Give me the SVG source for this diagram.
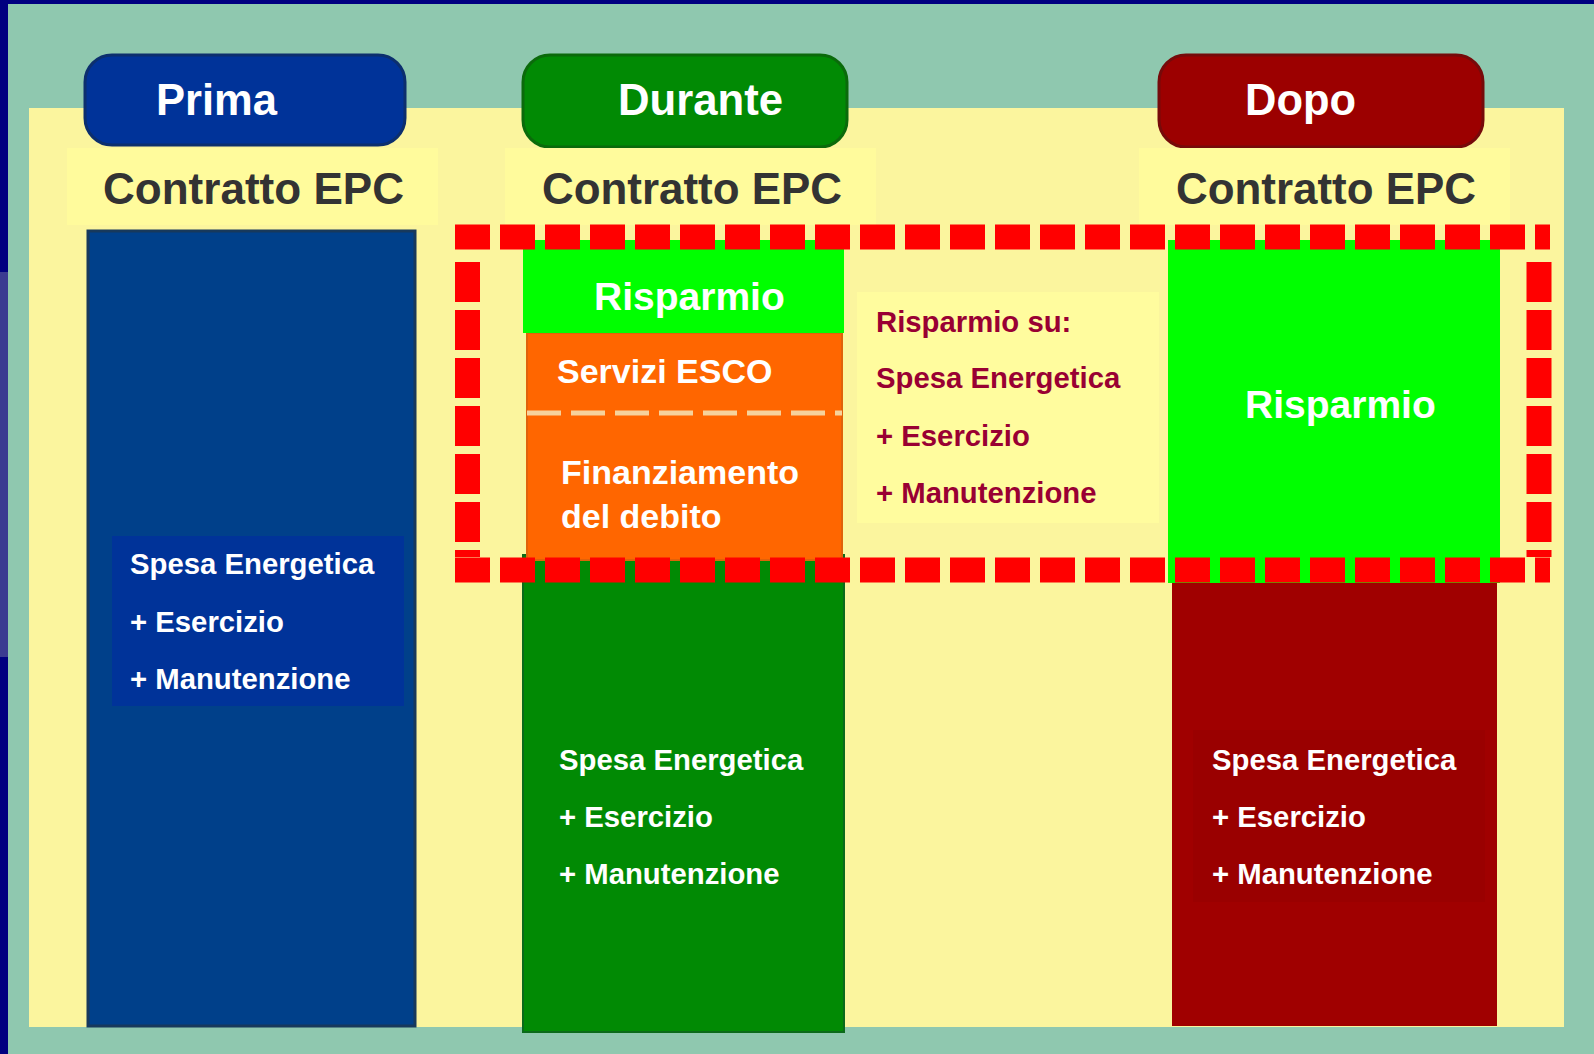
<svg xmlns="http://www.w3.org/2000/svg" width="1594" height="1054" viewBox="0 0 1594 1054">
  <style>
    text { font-family: "Liberation Sans", Arial, sans-serif; font-weight: bold; }
    .hdr { font-size: 45px; fill: #ffffff; }
    .lbl { font-size: 45px; fill: #333333; }
    .item { font-size: 29.3px; fill: #ffffff; }
    .note { font-size: 29.3px; fill: #990033; }
    .big { font-size: 39px; fill: #ffffff; }
    .mid { font-size: 34px; fill: #ffffff; }
    .labelbox { fill: #FFFB9C; }
    .dash { fill: none; stroke: #FF0000; stroke-width: 25; }
  </style>

  <!-- slide background -->
  <rect x="0" y="0" width="1594" height="1054" fill="#000080"/>
  <rect x="0" y="272" width="8" height="385" fill="#3B3B91"/>
  <rect x="8" y="4" width="1586" height="1050" fill="#8FC8AF"/>
  <rect x="29" y="108" width="1535" height="919" fill="#FBF59E"/>

  <!-- column headers -->
  <g id="hdr-prima">
    <rect x="85" y="55" width="320" height="90" rx="27" fill="#003399" stroke="#0C2F6E" stroke-width="3"/>
    <text class="hdr" x="156" y="115" textLength="121" lengthAdjust="spacingAndGlyphs">Prima</text>
  </g>
  <g id="hdr-durante">
    <rect x="523" y="55" width="324" height="92" rx="27" fill="#018A04" stroke="#0B6A0B" stroke-width="3"/>
    <text class="hdr" x="618" y="115" textLength="165" lengthAdjust="spacingAndGlyphs">Durante</text>
  </g>
  <g id="hdr-dopo">
    <rect x="1159" y="55" width="324" height="92" rx="27" fill="#9C0000" stroke="#760A0A" stroke-width="3"/>
    <text class="hdr" x="1245" y="115" textLength="111" lengthAdjust="spacingAndGlyphs">Dopo</text>
  </g>

  <!-- contract labels -->
  <g id="lbl-prima">
    <rect class="labelbox" x="67" y="148" width="371" height="77"/>
    <text class="lbl" x="103" y="204" textLength="301" lengthAdjust="spacingAndGlyphs">Contratto EPC</text>
  </g>
  <g id="lbl-durante">
    <rect class="labelbox" x="505" y="148" width="371" height="77"/>
    <text class="lbl" x="542" y="204" textLength="300" lengthAdjust="spacingAndGlyphs">Contratto EPC</text>
  </g>
  <g id="lbl-dopo">
    <rect class="labelbox" x="1139" y="148" width="371" height="77"/>
    <text class="lbl" x="1176" y="204" textLength="300" lengthAdjust="spacingAndGlyphs">Contratto EPC</text>
  </g>

  <!-- before: full cost column -->
  <g id="col-prima">
    <rect x="88" y="231" width="327" height="795" fill="#00408A" stroke="#17395C" stroke-width="3"/>
    <rect x="112" y="536" width="292" height="170" fill="#003399"/>
    <text class="item" x="130" y="574">Spesa Energetica</text>
    <text class="item" x="130" y="632">+ Esercizio</text>
    <text class="item" x="130" y="689">+ Manutenzione</text>
  </g>

  <!-- during: savings split into ESCO services and debt financing -->
  <g id="col-durante">
    <rect x="523" y="555" width="321" height="477" fill="#018A04" stroke="#0B6A1A" stroke-width="2"/>
    <rect x="527" y="333" width="315" height="227" fill="#FF6600" stroke="#E0620A" stroke-width="2"/>
    <line x1="527" y1="413" x2="842" y2="413" stroke="#F6D29C" stroke-width="5" stroke-dasharray="34 10"/>
    <rect x="523" y="240" width="321" height="93" fill="#00FF00"/>
    <text class="item" x="559" y="770">Spesa Energetica</text>
    <text class="item" x="559" y="827">+ Esercizio</text>
    <text class="item" x="559" y="884">+ Manutenzione</text>
  </g>

  <!-- after: reduced cost column with full savings -->
  <g id="col-dopo">
    <rect x="1172" y="570" width="325" height="456" fill="#A00000"/>
    <rect x="1193" y="730" width="292" height="172" fill="#9A0000"/>
    <rect x="1168" y="240" width="332" height="343" fill="#00FF00"/>
    <text class="item" x="1212" y="770">Spesa Energetica</text>
    <text class="item" x="1212" y="827">+ Esercizio</text>
    <text class="item" x="1212" y="884">+ Manutenzione</text>
  </g>

  <!-- savings description -->
  <g id="savings-note">
    <rect x="857" y="292" width="302" height="231" fill="#FFFC9E"/>
    <text class="note" x="876" y="332">Risparmio su:</text>
    <text class="note" x="876" y="388">Spesa Energetica</text>
    <text class="note" x="876" y="446">+ Esercizio</text>
    <text class="note" x="876" y="503">+ Manutenzione</text>
  </g>

  <!-- dashed frame around the savings area -->
  <g id="connectors">
    <line class="dash" x1="455" y1="237" x2="1550" y2="237" stroke-dasharray="35 10"/>
    <line class="dash" x1="455" y1="570" x2="1550" y2="570" stroke-dasharray="35 10"/>
    <line class="dash" x1="467.5" y1="262" x2="467.5" y2="557" stroke-dasharray="40 8"/>
    <line class="dash" x1="1539" y1="262" x2="1539" y2="557" stroke-dasharray="40 8"/>
  </g>

  <!-- labels inside the framed area -->
  <g id="txt-risparmio-durante">
    <text class="big" x="594" y="310">Risparmio</text>
  </g>
  <g id="txt-esco">
    <text class="mid" x="557" y="383">Servizi ESCO</text>
  </g>
  <g id="txt-debito">
    <text class="mid" x="561" y="484">Finanziamento</text>
    <text class="mid" x="561" y="528">del debito</text>
  </g>
  <g id="txt-risparmio-dopo">
    <text class="big" x="1245" y="418">Risparmio</text>
  </g>
</svg>
